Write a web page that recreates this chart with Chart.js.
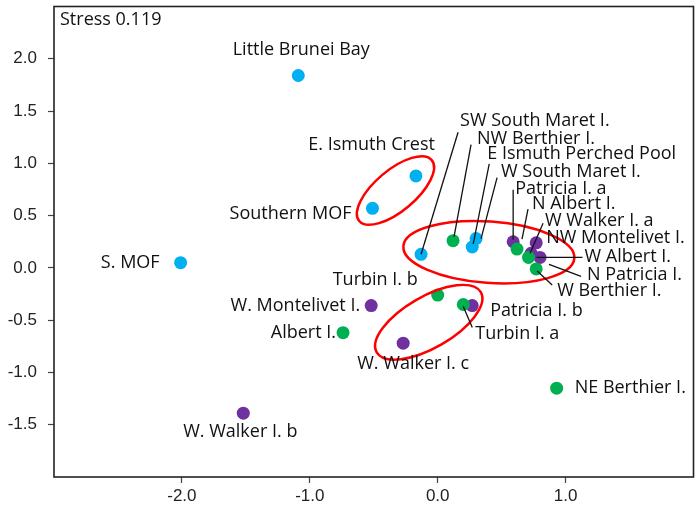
<!DOCTYPE html>
<html>
<head>
<meta charset="utf-8">
<script src="https://cdn.jsdelivr.net/npm/chart.js@4"></script>
<style>
html, body { margin: 0; padding: 0; background: #fff; }
</style>
</head>
<body>
<canvas id="chart" width="700" height="512"></canvas>
<script>
// nMDS ordination of sites
const siteNames = [
  'Little Brunei Bay', 'E. Ismuth Crest', 'Southern MOF', 'S. MOF',
  'SW South Maret I.', 'NW Berthier I.', 'E Ismuth Perched Pool', 'W South Maret I.',
  'Patricia I. a', 'N Albert I.', 'NW Montelivet I.', 'W Walker I. a',
  'W Albert I.', 'N Patricia I.', 'W Berthier I.', 'Patricia I. b',
  'Turbin I. a', 'Turbin I. b', 'W. Montelivet I.', 'Albert I.',
  'W. Walker I. c', 'W. Walker I. b', 'NE Berthier I.'
];
const axis1 = [
  -1.09, -0.17, -0.51, -2.01,
  -0.13, 0.12, 0.27, 0.30,
  0.59, 0.62, 0.77, 0.73,
  0.71, 0.80, 0.77, 0.27,
  0.20, 0.00, -0.52, -0.74,
  -0.27, -1.52, 0.93
];
const axis2 = [
  1.84, 0.88, 0.57, 0.05,
  0.13, 0.26, 0.20, 0.28,
  0.25, 0.18, 0.24, 0.14,
  0.10, 0.10, -0.01, -0.36,
  -0.35, -0.26, -0.36, -0.62,
  -0.72, -1.39, -1.15
];
// 0 = blue, 1 = green, 2 = purple
const siteGroup = [
  0, 0, 0, 0,
  0, 1, 0, 0,
  2, 1, 2, 2,
  1, 2, 1, 2,
  1, 1, 2, 1,
  2, 2, 1
];
const xTicks = [-2, -1, 0, 1];
const yTicks = [-1.5, -1.0, -0.5, 0.0, 0.5, 1.0, 1.5, 2.0];
const stressText = 'Stress 0.119';

const groupColors = ['#00B0F0', '#00B050', '#7030A0'];

// label placement: [dx, dy, align, leader(x1,y1,x2,y2) relative to point]
const labelLayout = [
  [3, -26, 'center'],
  [19, -31, 'right'],
  [-21, 6, 'right'],
  [-21, 0, 'right'],
  [39, -133, 'left', [0, 0, 37, -122]],
  [24, -102, 'left', [1, -4, 18, -96]],
  [15, -93, 'left', [1, -3, 17, -83]],
  [25, -67, 'left', [5, 0, 21, -61]],
  [2, -53, 'left', [0, -2, 0, -52]],
  [15, -45, 'left', [5, -10, 11, -40]],
  [10, -5, 'left'],
  [14, -32, 'left', [-1, 0, 12, -30]],
  [56, -1, 'left', [8, 0, 54, 0]],
  [47, 17, 'left', [9, 7, 41, 19]],
  [21, 22, 'left', [1, 2, 16, 16]],
  [18, 5, 'left'],
  [12, 29, 'left', [0, 2, 9, 23]],
  [-20, -15, 'right'],
  [-11, 0, 'right'],
  [-7, 0, 'right'],
  [10, 21, 'center'],
  [-3, 19, 'center'],
  [18, 0, 'left']
];

// red rings: centre in data units, semi-axes in x-axis units, rotation in degrees
const rings = [
  { cx: -0.33, cy: 0.74, a: 0.37, b: 0.16, rot: -40 },
  { cx: 0.40, cy: 0.15, a: 0.67, b: 0.24, rot: 4 },
  { cx: -0.07, cy: -0.52, a: 0.47, b: 0.20, rot: -30 }
];

function groupData(g) {
  const pts = [];
  for (let i = 0; i < siteNames.length; i++) {
    if (siteGroup[i] === g) pts.push({ x: axis1[i], y: axis2[i] });
  }
  return pts;
}

const labelFont = '18px "Open Sans"';

const overlay = {
  id: 'overlay',
  afterDatasetsDraw(chart) {
    const ctx = chart.ctx;
    const xs = chart.scales.x, ys = chart.scales.y;
    const area = chart.chartArea;
    const pxPerUnit = xs.getPixelForValue(1) - xs.getPixelForValue(0);
    ctx.save();

    // rings
    ctx.strokeStyle = '#FF0000';
    ctx.lineWidth = 2.5;
    rings.forEach(function (r) {
      ctx.beginPath();
      ctx.ellipse(xs.getPixelForValue(r.cx), ys.getPixelForValue(r.cy),
        r.a * pxPerUnit, r.b * pxPerUnit, r.rot * Math.PI / 180, 0, Math.PI * 2);
      ctx.stroke();
    });

    // leaders and labels
    ctx.font = labelFont;
    ctx.textBaseline = 'middle';
    ctx.fillStyle = '#111';
    ctx.strokeStyle = '#111';
    ctx.lineWidth = 1.3;
    for (let i = 0; i < siteNames.length; i++) {
      const px = xs.getPixelForValue(axis1[i]);
      const py = ys.getPixelForValue(axis2[i]);
      const lay = labelLayout[i];
      if (lay[3]) {
        const l = lay[3];
        ctx.beginPath();
        ctx.moveTo(px + l[0], py + l[1]);
        ctx.lineTo(px + l[2], py + l[3]);
        ctx.stroke();
      }
      ctx.textAlign = lay[2];
      ctx.fillText(siteNames[i], px + lay[0], py + lay[1]);
    }

    // frame
    ctx.strokeStyle = '#222';
    ctx.lineWidth = 1.6;
    ctx.strokeRect(area.left, area.top, area.right - area.left, area.bottom - area.top);

    ctx.font = '18px "Open Sans"';
    ctx.textAlign = 'left';
    ctx.fillStyle = '#111';
    ctx.fillText(stressText, area.left + 6, area.top + 13);
    ctx.restore();
  }
};

new Chart(document.getElementById('chart'), {
  type: 'scatter',
  data: {
    datasets: [
      { label: 'blue', data: groupData(0), backgroundColor: groupColors[0] },
      { label: 'green', data: groupData(1), backgroundColor: groupColors[1] },
      { label: 'purple', data: groupData(2), backgroundColor: groupColors[2] }
    ]
  },
  options: {
    responsive: false,
    animation: false,
    layout: { padding: { top: 4, right: 6, left: 0, bottom: 0 } },
    elements: { point: { radius: 6.5, borderWidth: 0, hoverRadius: 6.5 } },
    plugins: { legend: { display: false }, tooltip: { enabled: false } },
    scales: {
      x: {
        min: -3, max: 2,
        afterBuildTicks: function (s) { s.ticks = xTicks.map(function (v) { return { value: v }; }); },
        afterFit: function (s) { s.height = 35; s.paddingLeft = 0; s.paddingRight = 0; },
        border: { display: false },
        grid: { drawOnChartArea: false, tickLength: 6, color: '#444', tickWidth: 1.2 },
        ticks: {
          padding: 3,
          color: '#222',
          font: { family: '"Liberation Sans"', size: 17 },
          callback: function (v) { return Number(v).toFixed(1); }
        }
      },
      y: {
        min: -2, max: 2.5,
        afterBuildTicks: function (s) { s.ticks = yTicks.map(function (v) { return { value: v }; }); },
        afterFit: function (s) { s.width = 54; s.paddingTop = 0; s.paddingBottom = 0; },
        border: { display: false },
        grid: { drawOnChartArea: false, tickLength: 6, color: '#444', tickWidth: 1.2 },
        ticks: {
          padding: 11,
          color: '#222',
          font: { family: '"Liberation Sans"', size: 17 },
          callback: function (v) { return Number(v).toFixed(1); }
        }
      }
    }
  },
  plugins: [overlay]
});
</script>
</body>
</html>
